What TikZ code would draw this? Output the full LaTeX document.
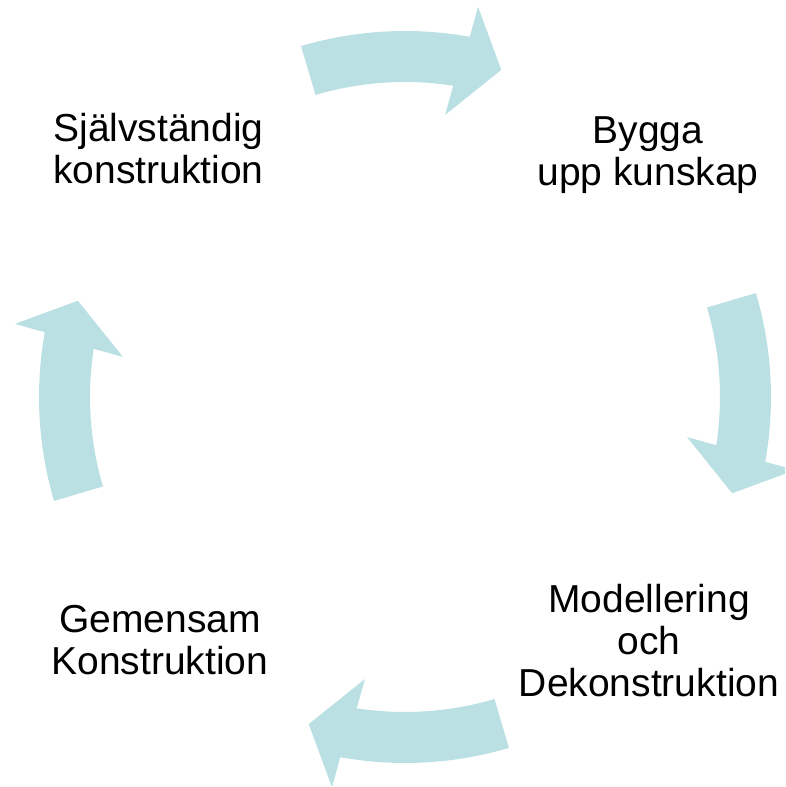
\documentclass[tikz,border=0pt]{standalone}
\usepackage{fontspec}
\setmainfont{Liberation Sans}
\definecolor{cyclefill}{RGB}{187,224,227}
\tikzset{
  phase/.style={align=center, inner sep=0, font=\fontsize{29.25}{31.5}\selectfont},
  cyclearrow/.pic={
    \fill[cyclefill] (106.5:315) -- (106.5:366) arc[start angle=106.5, end angle=79.8, radius=366]
      -- (79.4:397) -- (73.6:341) -- (81.9:285) -- (81.2:315)
      arc[start angle=81.2, end angle=106.5, radius=315] -- cycle;
  }
}
\begin{document}
\begin{tikzpicture}[x=0.75pt, y=0.75pt]
  \clip (-405,-390) rectangle (380,397);

  % Arrows
  \pic {cyclearrow};
  \pic[rotate=-90] {cyclearrow};
  \pic[rotate=-180] {cyclearrow};
  \pic[rotate=-270] {cyclearrow};

  % Nodes
  \draw (-246.5,248) node(indep) [phase] {Självständig\\konstruktion};
  \draw (243,241.5)  node(build) [phase] {Bygga\\upp kunskap};
  \draw (244,-244)   node(model) [phase] {Modellering\\och\\Dekonstruktion};
  \draw (-245,-243.5) node(joint) [phase] {Gemensam\\Konstruktion};
\end{tikzpicture}
\end{document}
